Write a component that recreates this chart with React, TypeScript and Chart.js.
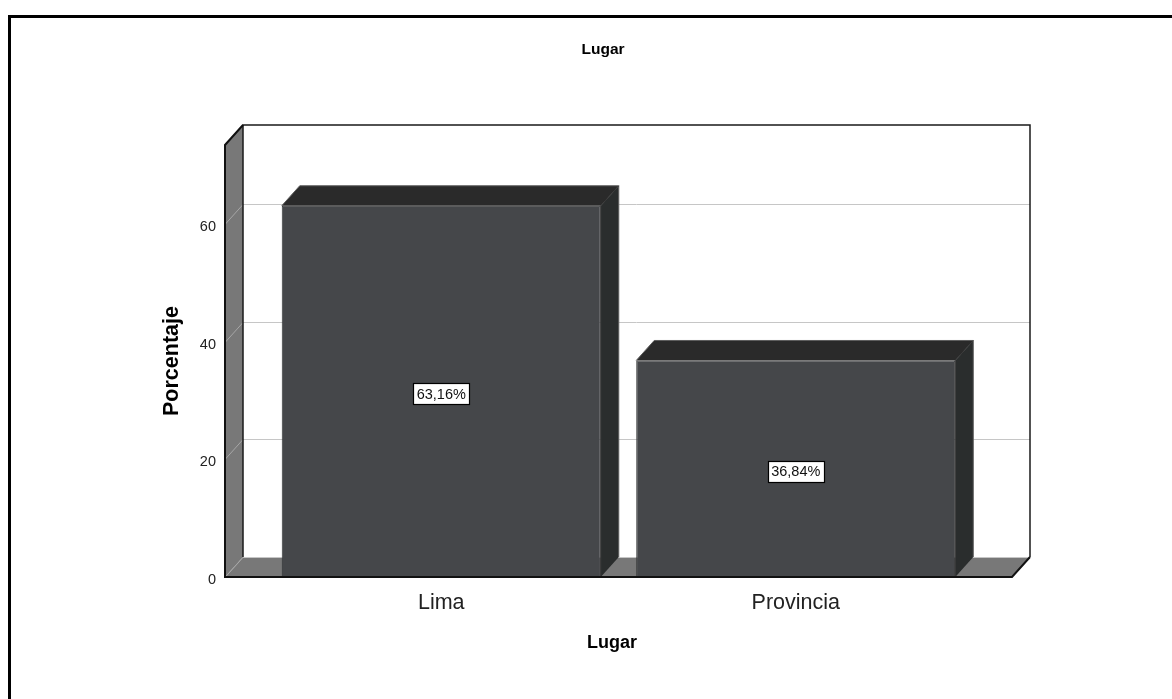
import { useEffect, useRef } from "react";
import { Chart, registerables } from "chart.js";

Chart.register(...registerables);

// Distribution of respondents by place
const categories = ["Lima", "Provincia"];
const percentages = [63.16, 36.84];
const yTicks = [0, 20, 40, 60];
const yMax = 73.5;

const FONT = "'Liberation Sans', Arial, Helvetica, sans-serif";
// Oblique depth of the 3D box, in pixels
const DX = 18;
const DY = 20;

const formatPct = (v: number) => v.toFixed(2).replace(".", ",") + "%";

const poly = (ctx: CanvasRenderingContext2D, pts: number[][]) => {
  ctx.beginPath();
  ctx.moveTo(pts[0][0], pts[0][1]);
  for (let i = 1; i < pts.length; i++) ctx.lineTo(pts[i][0], pts[i][1]);
  ctx.closePath();
};

const line = (ctx: CanvasRenderingContext2D, x0: number, y0: number, x1: number, y1: number) => {
  ctx.beginPath();
  ctx.moveTo(x0, y0);
  ctx.lineTo(x1, y1);
  ctx.stroke();
};

const box3dPlugin = {
  id: "box3d",
  beforeDatasetsDraw(chart: any) {
    const { ctx, chartArea: a, scales } = chart;
    const y = scales.y;
    const L = a.left, R = a.right, T = a.top, B = a.bottom;
    ctx.save();
    // left side wall
    ctx.fillStyle = "#787878";
    poly(ctx, [[L, T], [L + DX, T - DY], [L + DX, B - DY], [L, B]]);
    ctx.fill();
    // floor
    poly(ctx, [[L, B], [L + DX, B - DY], [R + DX, B - DY], [R, B]]);
    ctx.fill();
    // grid lines on the back wall and across the side wall
    ctx.lineWidth = 1;
    yTicks.forEach((v) => {
      const py = Math.round(y.getPixelForValue(v)) + 0.5;
      ctx.strokeStyle = "#c6c6c6";
      line(ctx, L + DX, py - DY, R + DX, py - DY);
      ctx.strokeStyle = "#a6a6a6";
      line(ctx, L, py, L + DX, py - DY);
    });
    // back wall outline
    ctx.strokeStyle = "#1a1a1a";
    ctx.lineWidth = 1.5;
    ctx.beginPath();
    ctx.moveTo(L + DX, B - DY);
    ctx.lineTo(L + DX, T - DY);
    ctx.lineTo(R + DX, T - DY);
    ctx.lineTo(R + DX, B - DY);
    ctx.stroke();
    ctx.restore();
  },
  afterDatasetsDraw(chart: any) {
    const { ctx, chartArea: a } = chart;
    const L = a.left, R = a.right, T = a.top, B = a.bottom;
    const meta = chart.getDatasetMeta(0);
    ctx.save();
    meta.data.forEach((bar: any, i: number) => {
      const { x, y: top, base, width } = bar.getProps(["x", "y", "base", "width"], true);
      const x0 = x - width / 2;
      const x1 = x + width / 2;
      // top face
      ctx.fillStyle = "#2a2a2a";
      poly(ctx, [[x0, top], [x0 + DX, top - DY], [x1 + DX, top - DY], [x1, top]]);
      ctx.fill();
      // right side face
      ctx.fillStyle = "#2a2d2d";
      poly(ctx, [[x1, top], [x1 + DX, top - DY], [x1 + DX, base - DY], [x1, base]]);
      ctx.fill();
      // edges
      ctx.lineWidth = 1;
      ctx.strokeStyle = "#5e5e5e";
      ctx.beginPath();
      ctx.moveTo(x0, top);
      ctx.lineTo(x0 + DX, top - DY);
      ctx.lineTo(x1 + DX, top - DY);
      ctx.lineTo(x1 + DX, base - DY);
      ctx.stroke();
      ctx.strokeStyle = "#383838";
      line(ctx, x1, top, x1 + DX, top - DY);
      line(ctx, x1, top, x1, base);

      // value label
      const text = formatPct(percentages[i]);
      ctx.font = `14.5px ${FONT}`;
      const tw = ctx.measureText(text).width;
      const cy = (top + base) / 2 + 2.5;
      const bw = Math.round(tw + 7);
      const bh = 21;
      const bx = Math.round(x - bw / 2) + 0.5;
      const by = Math.round(cy - bh / 2) + 0.5;
      ctx.fillStyle = "#ffffff";
      ctx.fillRect(bx, by, bw, bh);
      ctx.strokeStyle = "#000000";
      ctx.lineWidth = 1.2;
      ctx.strokeRect(bx, by, bw, bh);
      ctx.fillStyle = "#111111";
      ctx.textAlign = "center";
      ctx.textBaseline = "middle";
      ctx.fillText(text, x, cy + 1);
    });
    // front edges of the box
    ctx.strokeStyle = "#111111";
    ctx.lineWidth = 2;
    ctx.beginPath();
    ctx.moveTo(L + DX, T - DY);
    ctx.lineTo(L, T);
    ctx.lineTo(L, B);
    ctx.lineTo(R, B);
    ctx.lineTo(R + DX, B - DY);
    ctx.stroke();
    ctx.restore();
  },
  afterDraw(chart: any) {
    const { ctx } = chart;
    ctx.save();
    ctx.fillStyle = "#000000";
    ctx.textAlign = "center";
    ctx.textBaseline = "middle";
    ctx.font = `bold 15.5px ${FONT}`;
    ctx.fillText("Lugar", 603, 50);
    ctx.font = `bold 18px ${FONT}`;
    ctx.fillText("Lugar", 612, 643);
    ctx.translate(172, 361);
    ctx.rotate(-Math.PI / 2);
    ctx.font = `bold 21.5px ${FONT}`;
    ctx.fillText("Porcentaje", 0, 0);
    ctx.restore();
    // outer frame
    ctx.save();
    ctx.strokeStyle = "#000000";
    ctx.lineWidth = 3;
    ctx.strokeRect(9.5, 16.5, 1300, 800);
    ctx.restore();
  },
};

export default function App() {
  const canvasRef = useRef<HTMLCanvasElement | null>(null);

  useEffect(() => {
    if (!canvasRef.current) return;
    const chart = new Chart(canvasRef.current, {
      type: "bar",
      data: {
        datasets: [
          {
            data: categories.map((_, i) => ({ x: i, y: percentages[i] })),
            backgroundColor: "#45474a",
            borderColor: "#303233",
            borderWidth: 1,
            barPercentage: 0.9,
            categoryPercentage: 1,
          },
        ],
      },
      options: {
        animation: false,
        responsive: false,
        maintainAspectRatio: false,
        layout: { padding: { left: 165, right: 160, top: 145, bottom: 82 } },
        plugins: {
          legend: { display: false },
          tooltip: { enabled: false },
          title: { display: false },
        },
        scales: {
          x: {
            type: "linear",
            offset: false,
            min: -0.61,
            max: 1.61,
            grid: { display: false, drawTicks: false, offset: false },
            border: { display: false },
            afterBuildTicks: (s: any) => {
              s.ticks = categories.map((_, i) => ({ value: i }));
            },
            afterFit: (s: any) => {
              s.height = 40;
            },
            ticks: {
              autoSkip: false,
              maxRotation: 0,
              padding: 13,
              color: "#222222",
              font: { family: FONT, size: 21.5 },
              callback: (v: any) => categories[Number(v)] ?? "",
            },
          },
          y: {
            type: "linear",
            min: 0,
            max: yMax,
            grid: { display: false, drawTicks: false },
            border: { display: false },
            afterBuildTicks: (s: any) => {
              s.ticks = yTicks.map((v) => ({ value: v }));
            },
            afterFit: (s: any) => {
              s.width = 60;
            },
            ticks: {
              padding: 9,
              labelOffset: 3,
              color: "#222222",
              font: { family: FONT, size: 14.5 },
            },
          },
        },
      },
      plugins: [box3dPlugin],
    });
    return () => chart.destroy();
  }, []);

  return (
    <div
      style={{
        position: "fixed",
        left: 0,
        top: 0,
        width: 1172,
        height: 699,
        background: "#ffffff",
        overflow: "hidden",
      }}
    >
      <canvas ref={canvasRef} width={1172} height={699} style={{ width: 1172, height: 699, display: "block" }} />
    </div>
  );
}
